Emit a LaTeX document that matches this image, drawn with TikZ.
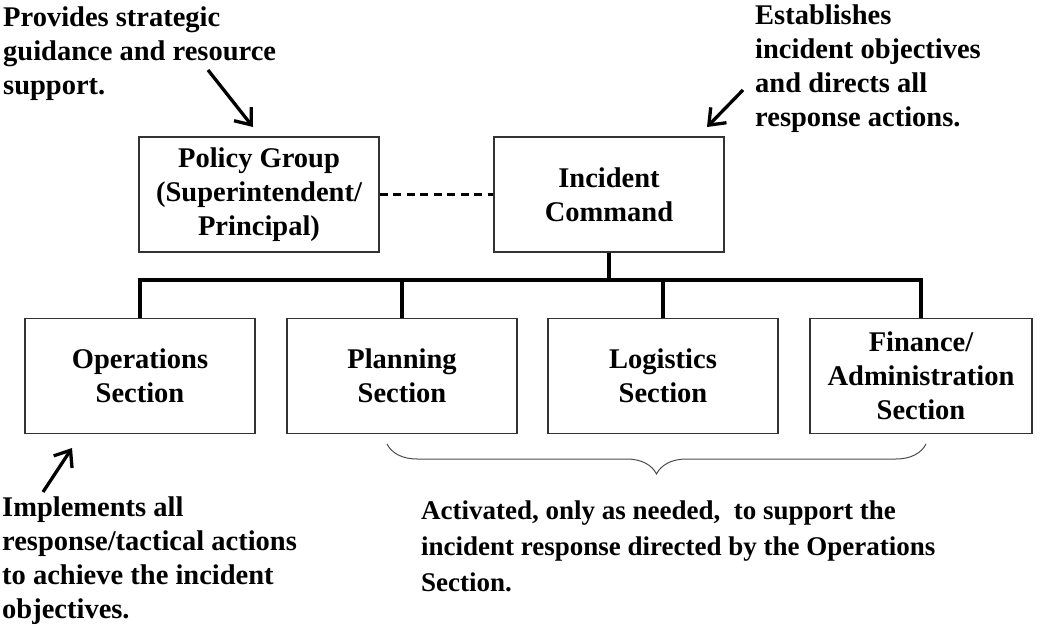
\documentclass[tikz,border=0pt]{standalone}
\usepackage{fontspec}
\setmainfont{Liberation Serif}
\usetikzlibrary{arrows.meta}
\usetikzlibrary{decorations.pathreplacing}

\begin{document}
\begin{tikzpicture}[x=1pt, y=-1pt,
  txt/.style={font=\fontsize{28.5}{34}\selectfont\bfseries},
  sec/.style={draw=black!80, line width=1.2pt, rectangle, minimum width=#1, minimum height=115pt,
    align=center, inner sep=2pt, txt},
  note/.style={align=left, inner sep=0pt, anchor=north west, txt},
  tree/.style={line width=3.5pt},
  pointer/.style={line width=3.3pt, -{Straight Barb[length=14pt, width=22pt, line width=3.3pt]}}]

  \useasboundingbox (0,0) rectangle (1045,628);

  %% upper level
  \node[sec=240pt] (policy) at (259,194.5) {Policy Group\\(Superintendent/\\Principal)};
  \node[sec=230pt] (ic) at (609,194.5) {Incident\\Command};
  \draw[line width=2.5pt, dash pattern=on 8pt off 5.5pt] (policy) -- (ic);

  %% sections
  \node[sec=230pt] (ops) at (140,376) {Operations\\Section};
  \node[sec=230pt] (plan) at (402,376) {Planning\\Section};
  \node[sec=230pt] (log) at (663,376) {Logistics\\Section};
  \node[sec=222pt] (fin) at (921,376) {Finance/\\Administration\\Section};

  %% tree lines
  \coordinate (bus) at (609,280);
  \draw[tree] (ic) -- (ic |- bus);
  \draw[tree] (ops.north) -- (ops.north |- bus) -| (fin.north);
  \foreach \sect in {plan,log}
    \draw[tree] (\sect.north) -- (\sect.north |- bus);

  %% notes
  \node[note] (policynote) at (3,7) {Provides strategic\\guidance and resource\\support.};
  \node[note] (icnote) at (755,5) {Establishes\\incident objectives\\and directs all\\response actions.};
  \node[note] (opsnote) at (2,497) {Implements all\\response/tactical actions\\to achieve the incident\\objectives.};
  \node[note, font=\fontsize{27}{36}\selectfont\bfseries] (supnote) at (421,501)
    {Activated, only as needed,~ to support the\\incident response directed by the Operations\\Section.};

  %% pointers
  \coordinate (ptail) at (208,70);
  \coordinate (phead) at (253,127);
  \coordinate (itail) at (743,90);
  \coordinate (ihead) at (707,127);
  \coordinate (otail) at (43,492);
  \coordinate (ohead) at (72,448);
  \draw[pointer] (ptail) -- (phead);
  \draw[pointer] (itail) -- (ihead);
  \draw[pointer] (otail) -- (ohead);

  %% brace
  \coordinate (bleft) at (387,444);
  \coordinate (bright) at (926,444);
  \draw[line width=1pt, black!70, decorate, decoration={brace, amplitude=30pt, mirror}]
    (bleft) -- (bright);

\end{tikzpicture}
\end{document}
